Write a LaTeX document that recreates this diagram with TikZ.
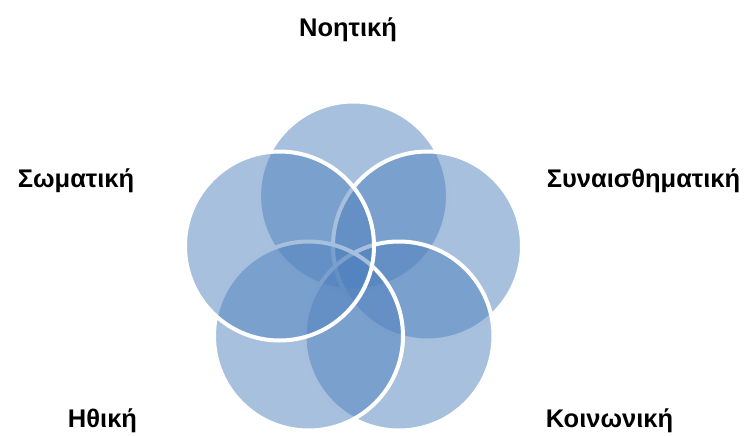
\documentclass[tikz,border=0pt]{standalone}
\usepackage{fontspec}
\setmainfont{Liberation Sans}
\definecolor{accent}{HTML}{4F81BD}
\tikzset{
  petal/.style={circle, minimum size=189pt, inner sep=0pt, fill=accent,
    fill opacity=0.5, draw=white, draw opacity=1, line width=4pt},
  tag/.style={anchor=base, inner sep=0pt, font=\fontsize{25.5}{30}\selectfont\bfseries}
}
\begin{document}
\begin{tikzpicture}[x=1pt, y=-1pt]
  \useasboundingbox (0,0) rectangle (747,436);
  % five overlapping circles, drawn clockwise from the top
  \node[petal] (c1) at (353.5,196) {};
  \node[petal] (c2) at (427.5,246) {};
  \node[petal] (c3) at (399,336) {};
  \node[petal] (c4) at (308.5,336) {};
  \node[petal] (c5) at (279.5,246) {};
  % labels
  \node[tag] (l1) at (348,37) {Νοητική};
  \node[tag] (l2) at (643.5,187) {Συναισθηματική};
  \node[tag] (l3) at (609.5,427) {Κοινωνική};
  \node[tag] (l4) at (102.5,427) {Ηθική};
  \node[tag] (l5) at (76,187) {Σωματική};
\end{tikzpicture}
\end{document}
